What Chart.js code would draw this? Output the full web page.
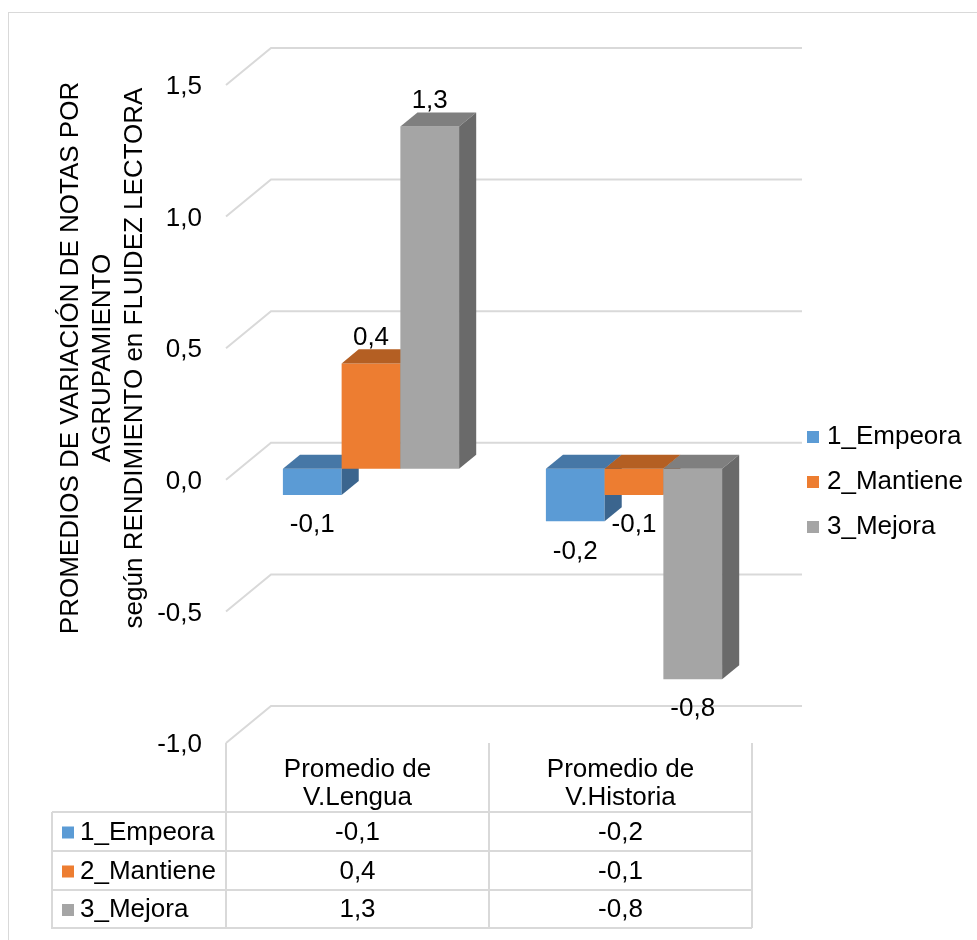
<!DOCTYPE html>
<html>
<head>
<meta charset="utf-8">
<script src="https://cdn.jsdelivr.net/npm/chart.js@4/dist/chart.umd.min.js"></script>
<style>
  html, body { margin: 0; padding: 0; background: #ffffff; }
  canvas { display: block; }
</style>
</head>
<body>
<canvas id="chart" width="977" height="940"></canvas>
<script>
// Categories (two-line headers), series names and values
const categories = [['Promedio de', 'V.Lengua'], ['Promedio de', 'V.Historia']];
const seriesNames = ['1_Empeora', '2_Mantiene', '3_Mejora'];
const empeora = [-0.1, -0.2];
const mantiene = [0.4, -0.1];
const mejora = [1.3, -0.8];
const tickValues = [1.5, 1.0, 0.5, 0.0, -0.5, -1.0];
const tickLabels = ['1,5', '1,0', '0,5', '0,0', '-0,5', '-1,0'];
const axisTitle = ['PROMEDIOS DE VARIACIÓN DE NOTAS POR', 'AGRUPAMIENTO', 'según RENDIMIENTO en FLUIDEZ LECTORA'];

const FONT = '26px "Liberation Sans", Arial, sans-serif';
const GRID = '#D9D9D9';
const TEXT = '#000000';

// Face colours: front, top, side
const palette = [
  { front: '#5B9BD5', top: '#4677A6', side: '#3B658E' },
  { front: '#ED7D31', top: '#B45F23', side: '#9C511D' },
  { front: '#A5A5A5', top: '#7F7F7F', side: '#6A6A6A' }
];

// Oblique depth of the plot box, and where the columns sit inside it
const BOX = { dx: 45, dy: -37 };
const COL_FRONT = 0.30;
const COL_DEPTH = 0.38;
const WALL_EXTRA = 5;

const fmt = v => v.toFixed(1).replace('.', ',');

function poly(ctx, pts, color) {
  ctx.beginPath();
  ctx.moveTo(pts[0][0], pts[0][1]);
  for (let k = 1; k < pts.length; k++) ctx.lineTo(pts[k][0], pts[k][1]);
  ctx.closePath();
  ctx.fillStyle = color;
  ctx.fill();
}

const threeD = {
  id: 'threeD',
  beforeDatasetsDraw(chart) {
    const ctx = chart.ctx;
    const area = chart.chartArea;
    const y = chart.scales.y;

    // walls: side-wall diagonals and back-wall gridlines
    ctx.save();
    ctx.strokeStyle = GRID;
    ctx.lineWidth = 2;
    tickValues.forEach(v => {
      const yf = y.getPixelForValue(v);
      ctx.beginPath();
      ctx.moveTo(area.left, yf);
      ctx.lineTo(area.left + BOX.dx, yf + BOX.dy);
      ctx.lineTo(area.right + BOX.dx + WALL_EXTRA, yf + BOX.dy);
      ctx.stroke();
    });
    ctx.restore();

    // columns, drawn category by category, left to right
    const sx = BOX.dx * COL_FRONT, sy = BOX.dy * COL_FRONT;
    const bx = BOX.dx * COL_DEPTH, by = BOX.dy * COL_DEPTH;
    const nCat = chart.data.labels.length;
    for (let j = 0; j < nCat; j++) {
      chart.data.datasets.forEach((ds, i) => {
        const bar = chart.getDatasetMeta(i).data[j];
        const p = bar.getProps(['x', 'y', 'base', 'width'], true);
        const L = p.x - p.width / 2 + sx, R = p.x + p.width / 2 + sx;
        const T = Math.min(p.y, p.base) + sy, B = Math.max(p.y, p.base) + sy;
        const c = palette[i];
        poly(ctx, [[L, T], [R, T], [R, B], [L, B]], c.front);
        poly(ctx, [[L, T], [L + bx, T + by], [R + bx, T + by], [R, T]], c.top);
        poly(ctx, [[R, T], [R + bx, T + by], [R + bx, B + by], [R, B]], c.side);
      });
    }

    // value labels
    ctx.save();
    ctx.font = FONT;
    ctx.fillStyle = TEXT;
    ctx.textAlign = 'center';
    ctx.textBaseline = 'middle';
    chart.data.datasets.forEach((ds, i) => {
      chart.getDatasetMeta(i).data.forEach((bar, j) => {
        const p = bar.getProps(['x', 'y', 'base'], true);
        const v = ds.data[j];
        const cx = p.x + sx;
        const ly = v >= 0 ? p.y + sy - 26 : p.y + sy + 30;
        ctx.fillText(fmt(v), cx, ly);
      });
    });
    ctx.restore();
    return false;
  },
  afterDraw(chart) {
    const ctx = chart.ctx;
    const area = chart.chartArea;
    const y = chart.scales.y;
    const x = chart.scales.x;
    ctx.save();

    // outer frame
    ctx.strokeStyle = GRID;
    ctx.lineWidth = 1;
    ctx.strokeRect(8.5, 12.5, 1200, 1200);

    // value axis tick labels
    ctx.font = FONT;
    ctx.fillStyle = TEXT;
    ctx.textAlign = 'right';
    ctx.textBaseline = 'middle';
    tickValues.forEach((v, k) => ctx.fillText(tickLabels[k], 202, y.getPixelForValue(v) + 2));

    // rotated axis title
    ctx.save();
    ctx.translate(0, 358);
    ctx.rotate(-Math.PI / 2);
    ctx.textAlign = 'center';
    [71, 103, 135].forEach((tx, k) => ctx.fillText(axisTitle[k], 0, tx));
    ctx.restore();

    // legend on the right
    chart.data.datasets.forEach((ds, i) => {
      const ly = 437 + i * 45;
      ctx.fillStyle = palette[i].front;
      ctx.fillRect(807, ly - 6, 12, 12);
      ctx.fillStyle = TEXT;
      ctx.textAlign = 'left';
      ctx.fillText(ds.label, 827, ly);
    });

    // data table
    const nCat = chart.data.labels.length;
    const colEdges = [];
    for (let j = 0; j <= nCat; j++) colEdges.push(area.left + (area.right - area.left) * j / nCat);
    const tableLeft = 52;
    const headTop = area.bottom;
    const rowTops = [812, 851, 890, 928];

    ctx.strokeStyle = GRID;
    ctx.lineWidth = 2;
    ctx.beginPath();
    colEdges.forEach(cx => { ctx.moveTo(cx, headTop); ctx.lineTo(cx, rowTops[3]); });
    ctx.moveTo(tableLeft, rowTops[0]); ctx.lineTo(tableLeft, rowTops[3] + 1);
    rowTops.forEach(ry => { ctx.moveTo(tableLeft, ry); ctx.lineTo(colEdges[nCat], ry); });
    ctx.stroke();

    ctx.fillStyle = TEXT;
    ctx.textAlign = 'center';
    chart.data.labels.forEach((lab, j) => {
      const cx = x.getPixelForValue(j);
      ctx.fillText(lab[0], cx, 770);
      ctx.fillText(lab[1], cx, 798);
    });

    chart.data.datasets.forEach((ds, i) => {
      const ry = (rowTops[i] + rowTops[i + 1]) / 2 + 1;
      ctx.fillStyle = palette[i].front;
      ctx.fillRect(62, ry - 6, 12, 12);
      ctx.fillStyle = TEXT;
      ctx.textAlign = 'left';
      ctx.fillText(ds.label, 80, ry);
      ctx.textAlign = 'center';
      ds.data.forEach((v, j) => ctx.fillText(fmt(v), x.getPixelForValue(j), ry));
    });
    ctx.restore();
  }
};

new Chart(document.getElementById('chart'), {
  type: 'bar',
  data: {
    labels: categories,
    datasets: [
      { label: seriesNames[0], data: empeora, backgroundColor: palette[0].front },
      { label: seriesNames[1], data: mantiene, backgroundColor: palette[1].front },
      { label: seriesNames[2], data: mejora, backgroundColor: palette[2].front }
    ]
  },
  options: {
    responsive: false,
    animation: false,
    layout: { padding: { left: 226, right: 977 - 752, top: 85, bottom: 940 - 743 } },
    datasets: { bar: { categoryPercentage: 0.67, barPercentage: 1.0 } },
    scales: {
      x: { display: false, offset: true },
      y: { display: false, min: -1, max: 1.5 }
    },
    plugins: { legend: { display: false }, tooltip: { enabled: false } }
  },
  plugins: [threeD]
});
</script>
</body>
</html>
